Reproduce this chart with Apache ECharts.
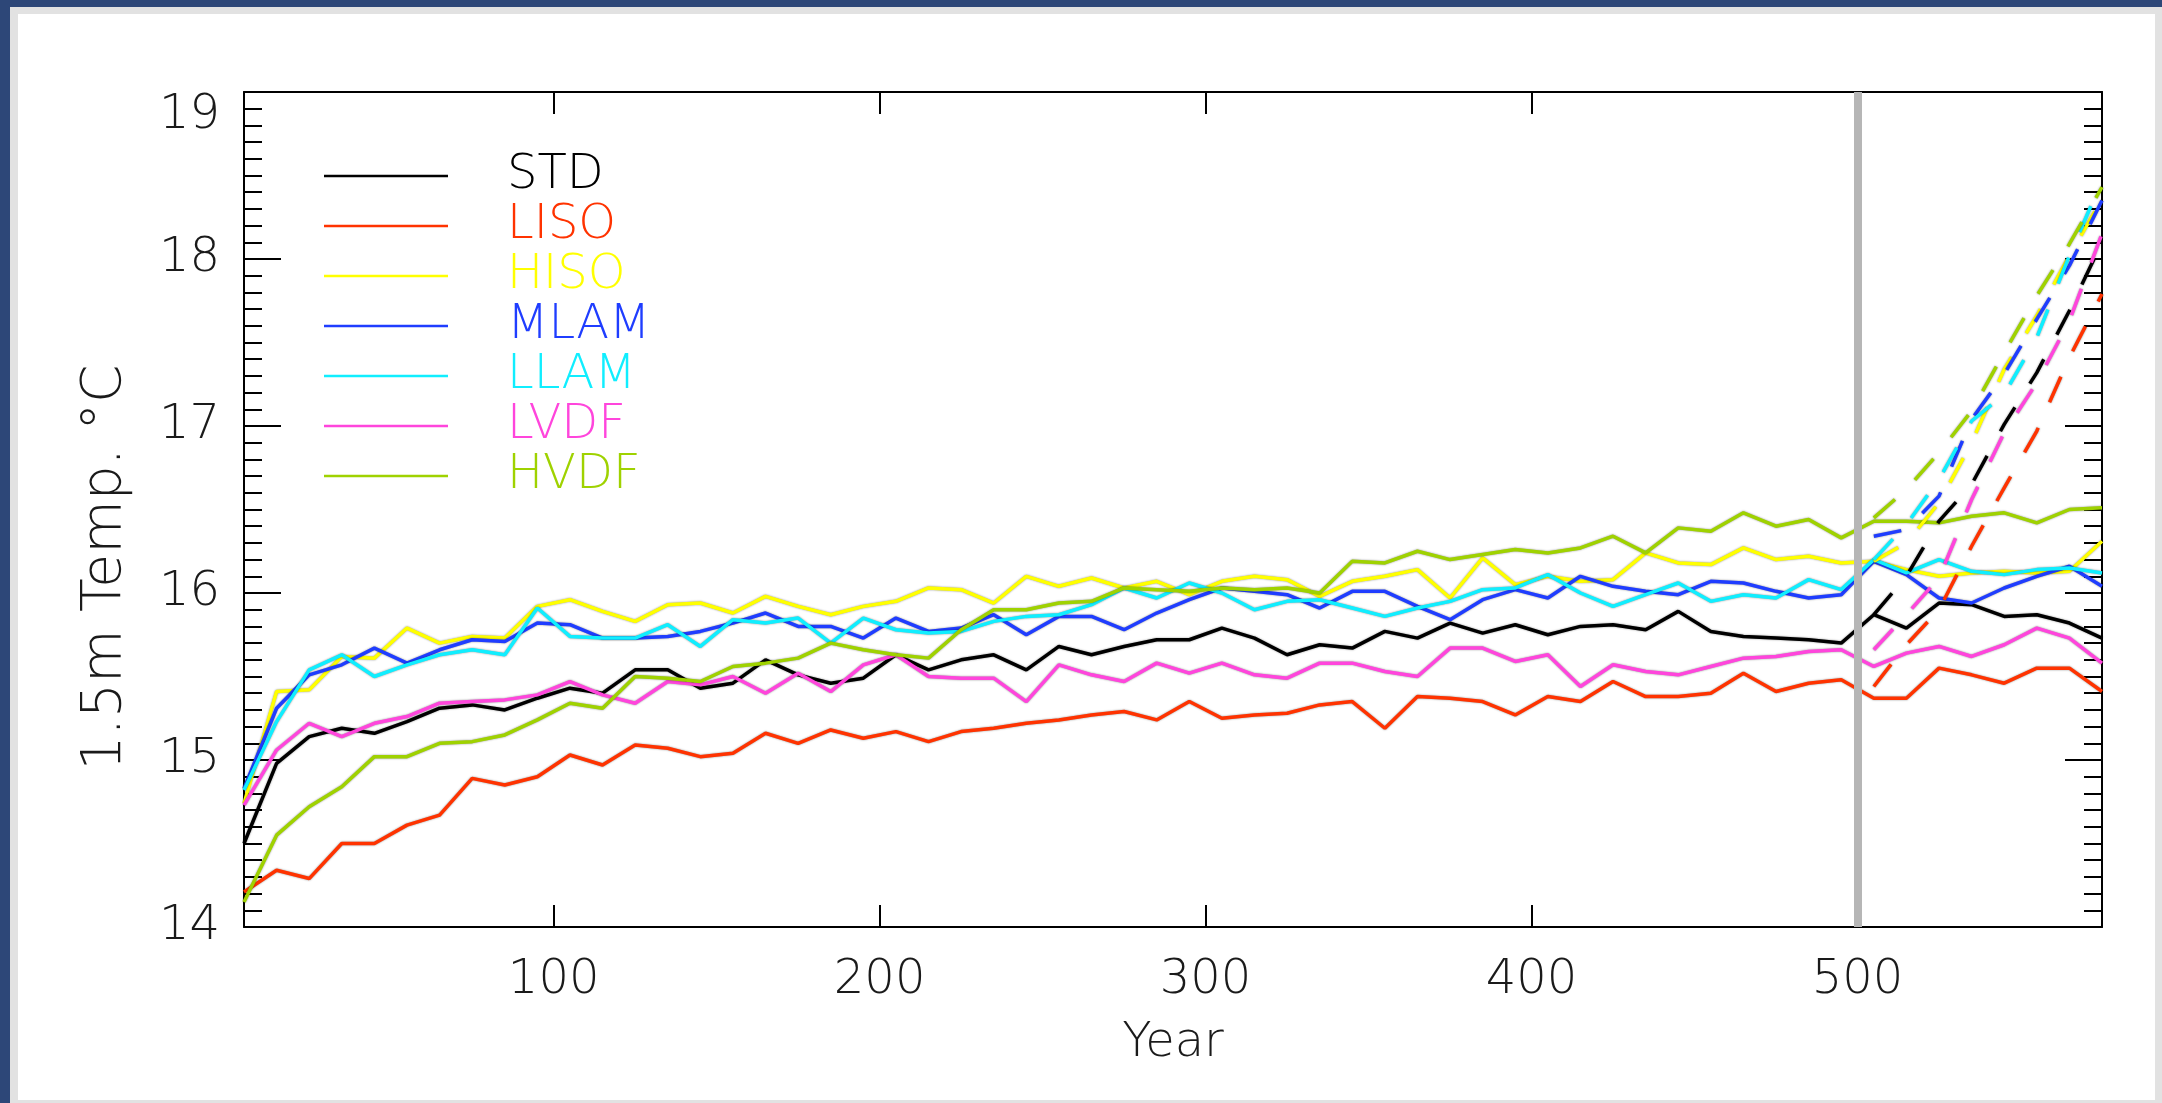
<!DOCTYPE html>
<html><head><meta charset="utf-8">
<script src="https://cdn.jsdelivr.net/npm/echarts@6/dist/echarts.min.js"></script>
<style>
html,body{margin:0;padding:0;width:2162px;height:1103px;overflow:hidden;background:#2d4778;}
#frame{position:absolute;left:10px;top:7px;width:2152px;height:1096px;background:#e2e2e2;}
#paper{position:absolute;left:18px;top:14px;width:2137px;height:1086px;background:#ffffff;}
#chart{position:absolute;left:0;top:0;width:2162px;height:1103px;}
</style></head><body>
<div id="frame"></div><div id="paper"></div><div id="chart"></div>
<script>
// ---- data ----
const years = [5,15,25,35,45,55,65,75,85,95,105,115,125,135,145,155,165,175,185,195,205,215,225,235,245,255,265,275,285,295,305,315,325,335,345,355,365,375,385,395,405,415,425,435,445,455,465,475,485,495,505,515,525,535,545,555,565,575];
const dashYears = [505,515,525,535,545,555,565,575];
const xTickValues = [100,200,300,400,500];
const seriesNames = ['STD','LISO','HISO','MLAM','LLAM','LVDF','HVDF'];

const STD  = [14.50,14.98,15.14,15.19,15.16,15.23,15.31,15.33,15.30,15.37,15.43,15.40,15.54,15.54,15.43,15.46,15.60,15.51,15.46,15.49,15.63,15.54,15.60,15.63,15.54,15.68,15.63,15.68,15.72,15.72,15.79,15.73,15.63,15.69,15.67,15.77,15.73,15.82,15.76,15.81,15.75,15.80,15.81,15.78,15.89,15.77,15.74,15.73,15.72,15.70,15.87,15.79,15.94,15.93,15.86,15.87,15.82,15.73];
const LISO = [14.21,14.34,14.29,14.50,14.50,14.61,14.67,14.89,14.85,14.90,15.03,14.97,15.09,15.07,15.02,15.04,15.16,15.10,15.18,15.13,15.17,15.11,15.17,15.19,15.22,15.24,15.27,15.29,15.24,15.35,15.25,15.27,15.28,15.33,15.35,15.19,15.38,15.37,15.35,15.27,15.38,15.35,15.47,15.38,15.38,15.40,15.52,15.41,15.46,15.48,15.37,15.37,15.55,15.51,15.46,15.55,15.55,15.41];
const HISO = [14.74,15.41,15.42,15.62,15.61,15.79,15.70,15.74,15.73,15.92,15.96,15.89,15.83,15.93,15.94,15.88,15.98,15.92,15.87,15.92,15.95,16.03,16.02,15.94,16.10,16.04,16.09,16.03,16.07,15.99,16.07,16.10,16.08,15.98,16.07,16.10,16.14,15.97,16.21,16.05,16.10,16.07,16.08,16.24,16.18,16.17,16.27,16.20,16.22,16.18,16.19,16.14,16.10,16.12,16.13,16.12,16.13,16.31];
const MLAM = [14.83,15.31,15.51,15.57,15.67,15.58,15.66,15.72,15.71,15.82,15.81,15.73,15.73,15.74,15.77,15.82,15.88,15.80,15.80,15.73,15.85,15.77,15.79,15.87,15.75,15.86,15.86,15.78,15.88,15.96,16.03,16.01,15.99,15.91,16.01,16.01,15.92,15.84,15.96,16.02,15.97,16.10,16.04,16.01,15.99,16.07,16.06,16.01,15.97,15.99,16.19,16.11,15.97,15.94,16.03,16.10,16.16,16.04];
const LLAM = [14.82,15.23,15.54,15.63,15.50,15.57,15.63,15.66,15.63,15.91,15.74,15.73,15.73,15.81,15.68,15.84,15.82,15.85,15.70,15.85,15.78,15.76,15.77,15.83,15.86,15.87,15.93,16.03,15.97,16.06,16.00,15.90,15.95,15.96,15.91,15.86,15.91,15.95,16.02,16.03,16.11,16.00,15.92,15.99,16.06,15.95,15.99,15.97,16.08,16.02,16.20,16.12,16.20,16.13,16.11,16.14,16.15,16.12];
const LVDF = [14.73,15.06,15.22,15.14,15.22,15.26,15.34,15.35,15.36,15.39,15.47,15.39,15.34,15.47,15.45,15.50,15.40,15.52,15.41,15.57,15.63,15.50,15.49,15.49,15.35,15.57,15.51,15.47,15.58,15.52,15.58,15.51,15.49,15.58,15.58,15.53,15.50,15.67,15.67,15.59,15.63,15.44,15.57,15.53,15.51,15.56,15.61,15.62,15.65,15.66,15.56,15.64,15.68,15.62,15.69,15.79,15.73,15.58];
const HVDF = [14.15,14.55,14.72,14.84,15.02,15.02,15.10,15.11,15.15,15.24,15.34,15.31,15.50,15.49,15.47,15.56,15.58,15.61,15.70,15.66,15.63,15.61,15.78,15.90,15.90,15.94,15.95,16.03,16.02,16.01,16.03,16.02,16.03,16.00,16.19,16.18,16.25,16.20,16.23,16.26,16.24,16.27,16.34,16.24,16.39,16.37,16.48,16.40,16.44,16.33,16.43,16.43,16.42,16.46,16.48,16.42,16.50,16.51];

// dashed (forced) branches starting at year 505
const STD_d  = [15.87,16.10,16.43,16.65,17.01,17.32,17.69,18.10];
const LISO_d = [15.44,15.69,15.90,16.28,16.63,16.97,17.41,17.79];
const HISO_d = [16.19,16.30,16.54,16.90,17.34,17.66,18.02,18.36];
const MLAM_d = [16.34,16.38,16.58,17.04,17.31,17.64,17.96,18.35];
const LLAM_d = [16.20,16.41,16.68,17.03,17.19,17.53,18.02,18.47];
const LVDF_d = [15.66,15.87,16.09,16.56,16.96,17.26,17.63,18.15];
const HVDF_d = [16.45,16.62,16.84,17.09,17.44,17.78,18.09,18.43];

const dividerYear = 500;

// ---- styling ----
const colors = ['#000000','#ff3300','#ffff00','#1f3dff','#10eeff','#ff45dc','#9fd200'];
const FONT = 'DejaVu Sans';
const TXT = '#1a1a1a';

const solid = [STD,LISO,HISO,MLAM,LLAM,LVDF,HVDF];
const dashed = [STD_d,LISO_d,HISO_d,MLAM_d,LLAM_d,LVDF_d,HVDF_d];

const halo = {shadowColor:'rgba(0,0,0,0.45)', shadowBlur:2};
const series = [];
seriesNames.forEach((n,i)=>{
  series.push({
    name:n, type:'line', symbol:'none', showSymbol:false,
    color:colors[i],
    lineStyle:Object.assign({color:colors[i], width:3.5}, halo),
    data: years.map((y,j)=>[y, solid[i][j]])
  });
});
seriesNames.forEach((n,i)=>{
  series.push({
    name:n+' forced', type:'line', symbol:'none', showSymbol:false,
    color:colors[i],
    lineStyle:Object.assign({color:colors[i], width:3.5, type:[28,28]}, halo),
    data: dashYears.map((y,j)=>[y, dashed[i][j]])
  });
});
series.push({
  name:'divider', type:'line', data:[], z:10,
  markLine:{silent:true, symbol:['none','none'], label:{show:false},
    lineStyle:{color:'#b6b6b6', width:8, type:'solid'},
    data:[{xAxis:dividerYear}]}
});

const chart = echarts.init(document.getElementById('chart'), null, {renderer:'canvas'});
chart.setOption({
  animation:false,
  backgroundColor:'transparent',
  grid:{left:244, right:60, top:92, bottom:176, containLabel:false},
  legend:{
    left:324, top:151, orient:'vertical', padding:0, itemGap:0,
    icon:'rect', itemWidth:124, itemHeight:2.5, selectedMode:false,
    textStyle:{fontFamily:FONT, fontWeight:200, fontSize:48, lineHeight:50, padding:[0,0,0,54]},
    data: seriesNames.map((n,i)=>({name:n, textStyle:{color:colors[i]}}))
  },
  xAxis:[{
    type:'value', min:5, max:575, position:'bottom',
    name:'Year', nameLocation:'middle', nameGap:93,
    nameTextStyle:{fontFamily:FONT, fontWeight:200, fontSize:48, color:TXT},
    axisLine:{show:true, lineStyle:{color:'#000', width:2}},
    axisTick:{show:true, inside:true, length:22, customValues:xTickValues, lineStyle:{color:'#000', width:2}},
    axisLabel:{customValues:xTickValues, fontFamily:FONT, fontWeight:200, fontSize:48, color:TXT, margin:30},
    splitLine:{show:false}
  },{
    type:'value', min:5, max:575, position:'top',
    axisLine:{show:true, lineStyle:{color:'#000', width:2}},
    axisTick:{show:true, inside:true, length:22, customValues:xTickValues, lineStyle:{color:'#000', width:2}},
    axisLabel:{show:false},
    splitLine:{show:false}
  }],
  yAxis:[{
    type:'value', min:14, max:19, interval:1, position:'left',
    name:'1.5m Temp. °C', nameLocation:'middle', nameGap:111, nameRotate:90,
    nameTextStyle:{fontFamily:FONT, fontWeight:200, fontSize:55, color:TXT, padding:[0,116,0,0]},
    axisLine:{show:true, lineStyle:{color:'#000', width:2}},
    axisTick:{show:true, inside:true, length:37, lineStyle:{color:'#000', width:2}},
    minorTick:{show:true, splitNumber:10, length:18, lineStyle:{color:'#000', width:2}},
    axisLabel:{fontFamily:FONT, fontWeight:200, fontSize:48, color:TXT, margin:24, verticalAlignMaxLabel:'top'},
    splitLine:{show:false}, minorSplitLine:{show:false}
  },{
    type:'value', min:14, max:19, interval:1, position:'right',
    axisLine:{show:true, lineStyle:{color:'#000', width:2}},
    axisTick:{show:true, inside:true, length:37, lineStyle:{color:'#000', width:2}},
    minorTick:{show:true, splitNumber:10, length:18, lineStyle:{color:'#000', width:2}},
    axisLabel:{show:false},
    splitLine:{show:false}, minorSplitLine:{show:false}
  }],
  series: series
});
</script></body></html>
